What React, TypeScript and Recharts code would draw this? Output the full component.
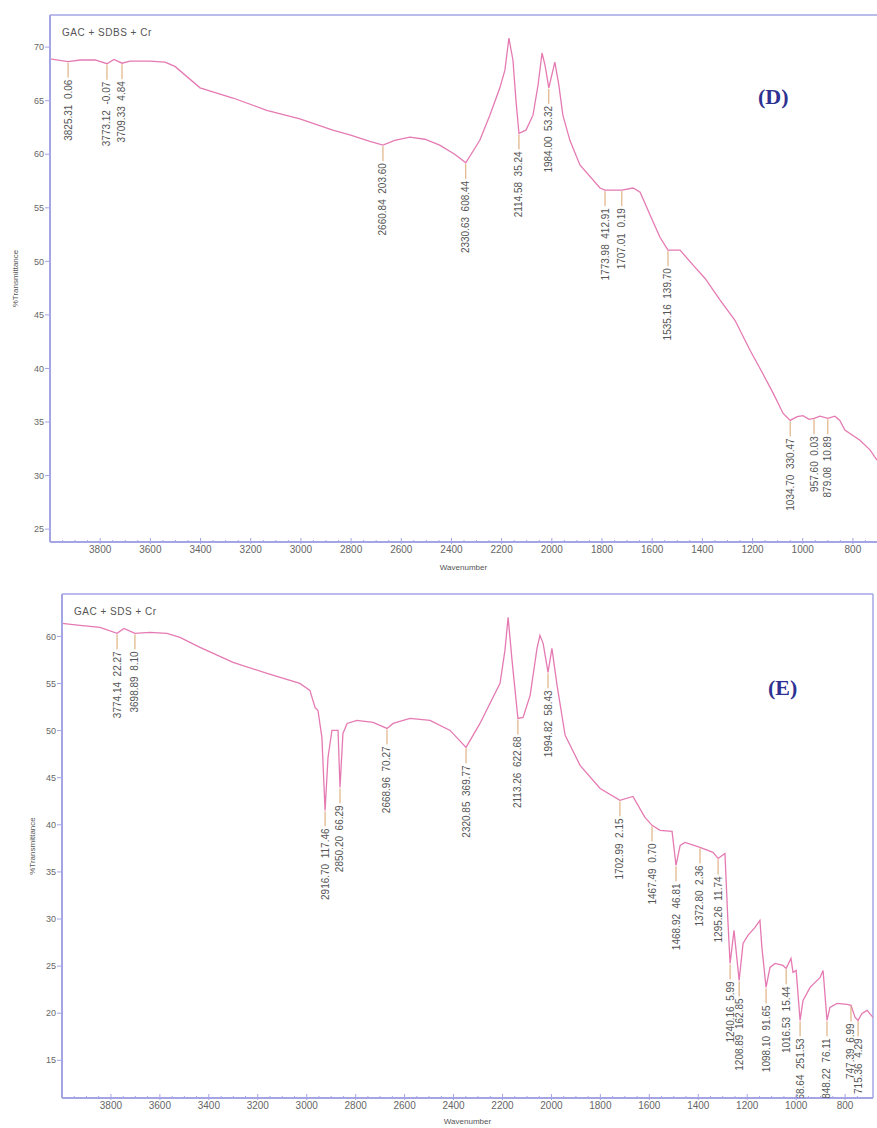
import React from "react";
import { ComposedChart, Line, Scatter, XAxis, YAxis, ReferenceLine } from "recharts";

// ---- panel D : GAC + SDBS + Cr ----
const wavenumberD = [4000, 3928, 3880, 3820, 3773, 3745, 3713, 3681, 3602, 3542, 3502, 3402, 3271, 3136, 3004, 2873, 2805, 2725, 2673, 2626, 2566, 2506, 2447, 2387, 2343, 2287, 2247, 2207, 2187, 2171, 2155, 2143, 2131, 2103, 2075, 2055, 2039, 2027, 2012, 1988, 1972, 1956, 1928, 1888, 1808, 1788, 1721, 1676, 1648, 1608, 1569, 1537, 1489, 1437, 1389, 1330, 1270, 1210, 1162, 1118, 1078, 1050, 1022, 999, 975, 955, 931, 900, 872, 852, 832, 772, 732, 704];
const transmittanceD = [68.9, 68.65, 68.8, 68.8, 68.45, 68.85, 68.5, 68.7, 68.7, 68.6, 68.2, 66.2, 65.25, 64.1, 63.3, 62.25, 61.8, 61.2, 60.85, 61.3, 61.6, 61.4, 60.85, 60.0, 59.2, 61.3, 63.65, 66.2, 67.85, 70.85, 68.8, 65.05, 61.95, 62.25, 63.65, 66.45, 69.45, 68.3, 66.2, 68.6, 66.45, 63.65, 61.3, 59.0, 56.85, 56.65, 56.65, 56.85, 56.45, 54.3, 52.25, 51.05, 51.05, 49.65, 48.4, 46.4, 44.5, 41.7, 39.65, 37.7, 35.8, 35.15, 35.5, 35.6, 35.25, 35.35, 35.55, 35.35, 35.55, 35.15, 34.25, 33.3, 32.4, 31.45];
const peakWnD = [3928, 3773, 3713, 2673, 2343, 2131, 2012, 1788, 1721, 1537, 1050, 955, 900];
const peakTD = [68.65, 68.45, 68.5, 60.85, 59.2, 61.95, 66.2, 56.65, 56.65, 51.05, 35.15, 35.35, 35.35];
const peakLabelsD = ["3825.31  0.06", "3773.12  -0.07", "3709.33  4.84", "2660.84  203.60", "2330.63  608.44", "2114.58  35.24", "1984.00  53.32", "1773.98  412.91", "1707.01  0.19", "1535.16  139.70", "1034.70  330.47", "957.60  0.03", "879.08  10.89"];

// ---- panel E : GAC + SDS + Cr ----
const wavenumberE = [4000, 3927, 3845, 3775, 3747, 3702, 3641, 3571, 3518, 3436, 3301, 3162, 3028, 2987, 2966, 2954, 2938, 2925, 2913, 2897, 2872, 2864, 2852, 2835, 2795, 2729, 2672, 2647, 2578, 2496, 2414, 2349, 2292, 2210, 2190, 2177, 2161, 2137, 2116, 2087, 2059, 2047, 2034, 2014, 1998, 1977, 1944, 1883, 1801, 1720, 1667, 1618, 1589, 1556, 1507, 1491, 1474, 1454, 1393, 1340, 1319, 1291, 1279, 1270, 1254, 1233, 1217, 1197, 1168, 1148, 1140, 1123, 1107, 1086, 1054, 1041, 1021, 1013, 1000, 984, 972, 943, 902, 890, 874, 862, 833, 792, 776, 759, 747, 731, 710, 686];
const transmittanceE = [61.38, 61.17, 60.96, 60.32, 60.85, 60.32, 60.42, 60.32, 59.89, 58.83, 57.24, 56.07, 55.01, 54.27, 52.46, 52.14, 49.28, 41.53, 47.15, 50.02, 50.02, 43.97, 49.7, 50.76, 51.08, 50.87, 50.23, 50.76, 51.29, 51.08, 50.02, 48.22, 50.76, 55.01, 58.51, 62.02, 57.45, 51.29, 51.4, 53.74, 58.73, 60.11, 59.26, 56.18, 58.73, 54.8, 49.49, 46.31, 43.86, 42.59, 43.01, 40.79, 39.94, 39.41, 39.3, 35.69, 37.81, 38.13, 37.6, 37.07, 36.43, 36.96, 29.85, 25.29, 28.79, 23.48, 27.41, 28.26, 29.11, 29.85, 26.99, 22.74, 24.86, 25.29, 25.07, 24.76, 25.82, 24.33, 24.54, 19.24, 21.36, 22.74, 23.8, 24.54, 19.24, 20.62, 21.04, 20.93, 20.83, 19.55, 19.24, 19.98, 20.3, 19.55];
const peakWnE = [3775, 3702, 2925, 2864, 2672, 2349, 2137, 2014, 1720, 1589, 1491, 1393, 1319, 1270, 1233, 1123, 1041, 984, 874, 776, 747];
const peakTE = [60.32, 60.32, 41.53, 43.97, 50.23, 48.22, 51.29, 56.18, 42.59, 39.94, 35.69, 37.6, 36.43, 25.29, 23.48, 22.74, 24.76, 19.24, 19.24, 20.83, 19.24];
const peakLabelsE = ["3774.14  22.27", "3698.89  8.10", "2916.70  117.46", "2850.20  66.29", "2668.96  70.27", "2320.85  369.77", "2113.26  622.68", "1994.82  58.43", "1702.99  2.15", "1467.49  0.70", "1468.92  46.81", "1372.80  2.36", "1295.26  11.74", "1240.16  5.99", "1208.89  162.85", "1098.10  91.65", "1016.53  15.44", "968.64  251.53", "848.22  76.11", "747.39  6.99", "715.36  4.29"];

const xMajorTicks = [3800, 3600, 3400, 3200, 3000, 2800, 2600, 2400, 2200, 2000, 1800, 1600, 1400, 1200, 1000, 800];
const yTicksD = [25, 30, 35, 40, 45, 50, 55, 60, 65, 70];
const yTicksE = [15, 20, 25, 30, 35, 40, 45, 50, 55, 60];

const FONT = '"Liberation Sans", Arial, Helvetica, sans-serif';
const AXIS = "#a5a5e6";
const CURVE = "#e57ab3";
const STUB = "#d9a36b";

// minor ticks every 50 between the labelled ones
const xTicks: number[] = [];
for (let v = 750; v <= 3950; v += 50) xTicks.push(v);

const curveD = wavenumberD.map((x, i) => ({ x, y: transmittanceD[i] }));
const peaksD = peakWnD.map((x, i) => ({ x, y: peakTD[i], label: peakLabelsD[i] }));
const curveE = wavenumberE.map((x, i) => ({ x, y: transmittanceE[i] }));
const peaksE = peakWnE.map((x, i) => ({ x, y: peakTE[i], label: peakLabelsE[i] }));

function XTick(props: any) {
  const { x, y, payload } = props;
  const v = payload.value;
  const major = xMajorTicks.includes(v);
  return (
    <g>
      <line x1={x} x2={x} y1={major ? y - 4 : y - 2} y2={major ? y + 2 : y} stroke={AXIS} strokeWidth={1} />
      {major && (
        <text x={x} y={y + 11} textAnchor="middle" fontSize={10} fill="#666" fontFamily={FONT}>
          {v}
        </text>
      )}
    </g>
  );
}

function YTick(props: any) {
  const { x, y, payload } = props;
  return (
    <g>
      <line x1={x - 5} x2={x} y1={y} y2={y} stroke={AXIS} strokeWidth={1} />
      <text x={x - 6} y={y} dy="0.35em" textAnchor="end" fontSize={9} fill="#666" fontFamily={FONT}>
        {payload.value}
      </text>
    </g>
  );
}

function PeakMark(props: any) {
  const { cx, cy, payload } = props;
  if (cx == null || cy == null) return null;
  const end = cy + 16;
  return (
    <g>
      <line x1={cx} x2={cx} y1={cy + 1} y2={end} stroke={STUB} strokeWidth={1} />
      <text
        x={cx}
        y={end + 2}
        transform={`rotate(-90 ${cx} ${end + 2})`}
        textAnchor="end"
        dy="0.35em"
        fontSize={10}
        fill="#555"
        fontFamily={FONT}
        style={{ whiteSpace: "pre" }}
      >
        {payload.label}
      </text>
    </g>
  );
}

interface PanelProps {
  width: number;
  height: number;
  margin: { top: number; right: number; bottom: number; left: number };
  yWidth: number;
  xHeight: number;
  xDomain: [number, number];
  yDomain: [number, number];
  yTicks: number[];
  curve: { x: number; y: number }[];
  peaks: { x: number; y: number; label: string }[];
  yLabelOffset: number;
  xLabelOffset: number;
  rightBorder: boolean;
}

function Panel(p: PanelProps) {
  return (
    <ComposedChart width={p.width} height={p.height} margin={p.margin}>
      <XAxis
        type="number"
        dataKey="x"
        reversed
        domain={p.xDomain}
        ticks={xTicks}
        interval={0}
        allowDataOverflow
        height={p.xHeight}
        tickLine={false}
        tickSize={0}
        tickMargin={0}
        tick={<XTick />}
        axisLine={{ stroke: AXIS, strokeWidth: 2 }}
        label={{
          value: "Wavenumber",
          position: "insideBottom",
          offset: p.xLabelOffset,
          style: { fontSize: 8, fill: "#555", fontFamily: FONT },
        }}
      />
      <YAxis
        type="number"
        dataKey="y"
        domain={p.yDomain}
        ticks={p.yTicks}
        interval={0}
        allowDataOverflow
        width={p.yWidth}
        tickLine={false}
        tickSize={0}
        tickMargin={0}
        tick={<YTick />}
        axisLine={{ stroke: AXIS, strokeWidth: 2 }}
        label={{
          value: "%Transmittance",
          angle: -90,
          position: "insideLeft",
          offset: p.yLabelOffset,
          style: { fontSize: 8, fill: "#555", fontFamily: FONT, textAnchor: "middle" },
        }}
      />
      <ReferenceLine y={p.yDomain[1]} stroke={AXIS} strokeWidth={1.5} />
      {p.rightBorder && <ReferenceLine x={p.xDomain[0]} stroke={AXIS} strokeWidth={1.5} />}
      <Line
        data={p.curve}
        dataKey="y"
        type="linear"
        stroke={CURVE}
        strokeWidth={1.3}
        dot={false}
        activeDot={false}
        isAnimationActive={false}
      />
      <Scatter data={p.peaks} dataKey="y" shape={<PeakMark />} isAnimationActive={false} />
    </ComposedChart>
  );
}

export default function App() {
  return (
    <div style={{ position: "absolute", left: 0, top: 0, width: 877, height: 1128, background: "#fff", fontFamily: FONT }}>
      <div style={{ position: "absolute", left: 0, top: 0 }}>
        <Panel
          width={877}
          height={580}
          margin={{ top: 15, right: 0, bottom: 0, left: 0 }}
          yWidth={50}
          xHeight={38}
          xDomain={[704, 4000]}
          yDomain={[23.8, 73]}
          yTicks={yTicksD}
          curve={curveD}
          peaks={peaksD}
          yLabelOffset={15}
          xLabelOffset={10}
          rightBorder={false}
        />
      </div>
      <div style={{ position: "absolute", left: 0, top: 580 }}>
        <Panel
          width={877}
          height={548}
          margin={{ top: 14, right: 4, bottom: 0, left: 0 }}
          yWidth={62}
          xHeight={30}
          xDomain={[686, 4000]}
          yDomain={[11, 64.5]}
          yTicks={yTicksE}
          curve={curveE}
          peaks={peaksE}
          yLabelOffset={32}
          xLabelOffset={4}
          rightBorder={true}
        />
      </div>
      <div style={{ position: "absolute", left: 62, top: 27, fontSize: 10, letterSpacing: 0.5, color: "#555", lineHeight: "12px" }}>
        GAC + SDBS + Cr
      </div>
      <div style={{ position: "absolute", left: 74, top: 606, fontSize: 10, letterSpacing: 0.5, color: "#555", lineHeight: "12px" }}>
        GAC + SDS + Cr
      </div>
      <div style={{ position: "absolute", left: 758, top: 84, fontSize: 22, fontWeight: "bold", color: "#2e3192", fontFamily: '"Liberation Serif", "Times New Roman", serif', lineHeight: "26px" }}>
        (D)
      </div>
      <div style={{ position: "absolute", left: 768, top: 675, fontSize: 22, fontWeight: "bold", color: "#2e3192", fontFamily: '"Liberation Serif", "Times New Roman", serif', lineHeight: "26px" }}>
        (E)
      </div>
    </div>
  );
}
